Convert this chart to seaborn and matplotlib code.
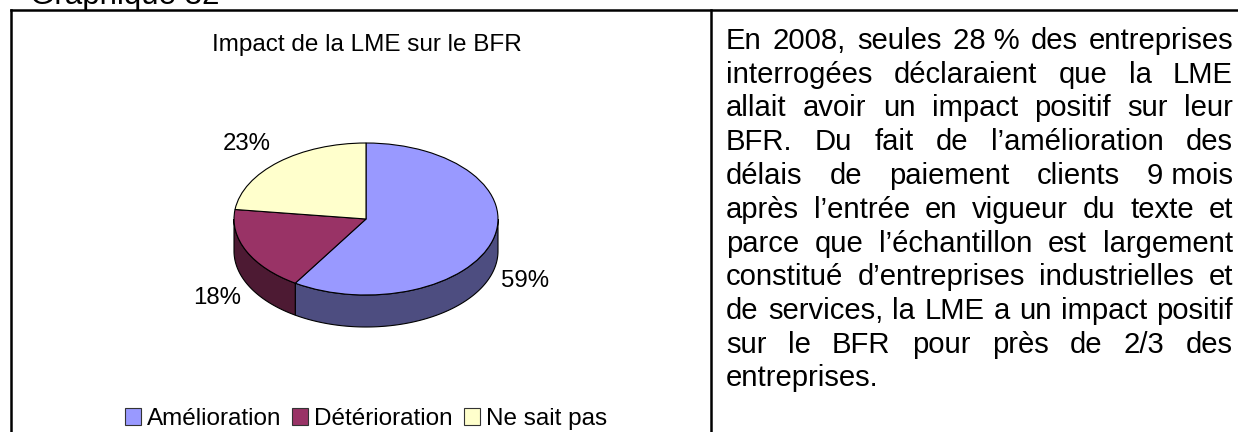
import numpy as np
import matplotlib
matplotlib.use("Agg")
import matplotlib.pyplot as plt
import seaborn as sns

# Data
categories = ["Amélioration", "Détérioration", "Ne sait pas"]
values = [59, 18, 23]
pct_labels = ["59%", "18%", "23%"]
top_colors = ["#9999FF", "#993366", "#FFFFCC"]
side_colors = ["#4D4D80", "#4D1A33", "#808066"]

chart_title = "Impact de la LME sur le BFR"
heading = "Graphique 32"
body_lines = [
    "En|2008,|seules|28 %|des|entreprises",
    "interrogées|déclaraient|que|la|LME",
    "allait|avoir|un|impact|positif|sur|leur",
    "BFR.|Du|fait|de|l’amélioration|des",
    "délais|de|paiement|clients|9 mois",
    "après|l’entrée|en|vigueur|du|texte|et",
    "parce|que|l’échantillon|est|largement",
    "constitué|d’entreprises|industrielles|et",
    "de|services,|la|LME|a|un|impact|positif",
    "sur|le|BFR|pour|près|de|2/3|des",
    "entreprises.",
]

W, H = 1238, 432
sns.set_theme(style="white")
plt.rcParams["font.family"] = ["Liberation Sans", "DejaVu Sans"]
palette = sns.color_palette(top_colors)

fig = plt.figure(figsize=(W / 100, H / 100), dpi=100, facecolor="white")

# Overlay axes in pixel units for the frame and the text
page = fig.add_axes([0, 0, 1, 1], zorder=3)
page.set_xlim(0, W)
page.set_ylim(H, 0)
page.axis("off")
page.patch.set_alpha(0)

# Pie axes: ellipse centre (366, 219), radii 132 x 76 px, wall 32 px deep
cx, cy, rx, ry, depth = 366, 219, 132, 76, 32
left, right, top, bottom = cx - rx - 4, cx + rx + 4, cy - ry - 4, cy + ry + depth + 4
ax = fig.add_axes([left / W, 1 - bottom / H, (right - left) / W, (bottom - top) / H])

wedges, _ = ax.pie(values, colors=palette, startangle=90, counterclock=False,
                   radius=1, wedgeprops={"edgecolor": "black", "linewidth": 0.8})
ax.set_aspect("auto")
ax.set_xlim((left - cx) / rx, (right - cx) / rx)
ax.set_ylim((cy - bottom) / ry, (cy - top) / ry)
for w in wedges:
    w.set_zorder(3)

# Side wall: only the front half of the ellipse shows
h = depth / ry
edges = np.cumsum([0] + values) / sum(values) * 360
for a0, a1, col in zip(edges[:-1], edges[1:], side_colors):
    a0, a1 = max(a0, 90), min(a1, 270)
    if a1 <= a0:
        continue
    t = np.radians(np.linspace(a0, a1, 120))
    x, y = np.sin(t), np.cos(t)
    ax.fill(np.r_[x, x[::-1]], np.r_[y, y[::-1] - h], facecolor=col,
            edgecolor="black", linewidth=0.8, zorder=2)

leg = ax.legend(wedges, categories, ncol=3, frameon=False, fontsize=17.5,
                loc="center", bbox_to_anchor=(366 / W, 1 - 419 / H),
                bbox_transform=fig.transFigure, handlelength=0.66, handleheight=0.66,
                handletextpad=0.25, columnspacing=0.46, borderpad=0, borderaxespad=0)
for t in leg.get_texts():
    t.set_color("black")
for p in leg.get_patches():
    p.set_edgecolor("#333333")
    p.set_linewidth(0.8)

# Frame, open at the bottom and on the right
page.plot([11, 11], [H, 10], [11, W], [10, 10], [711, 711], [10, H],
          color="black", lw=1.8, solid_capstyle="projecting")

page.text(30, 4, heading, fontsize=22.5, color="black", va="baseline")
page.text(367, 51, chart_title, fontsize=17.5, color="black", ha="center", va="baseline")
page.text(501, 287, pct_labels[0], fontsize=17.3, color="black", va="baseline")
page.text(193, 304, pct_labels[1], fontsize=17.3, color="black", va="baseline")
page.text(223, 150, pct_labels[2], fontsize=17.3, color="black", va="baseline")

# Justified paragraph, placed word by word
renderer = fig.canvas.get_renderer()
text_left, text_right = 726, 1233
for i, line in enumerate(body_lines):
    words = line.split("|")
    y = 49 + 33.75 * i
    items = [page.text(text_left, y, w, fontsize=21.1, color="black", va="baseline") for w in words]
    widths = [it.get_window_extent(renderer).width for it in items]
    if i == len(body_lines) - 1:
        continue
    gap = (text_right - text_left - sum(widths)) / (len(words) - 1)
    x = text_left
    for it, wd in zip(items, widths):
        it.set_x(x)
        x += wd + gap

fig.savefig("out.png", dpi=100)
